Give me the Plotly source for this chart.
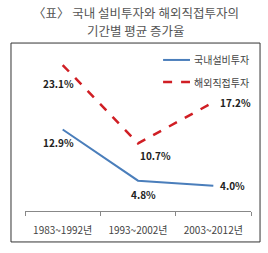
import plotly.graph_objects as go

categories = ["1983~1992년", "1993~2002년", "2003~2012년"]
domestic = [12.9, 4.8, 4.0]
overseas = [23.1, 10.7, 17.2]
series_names = ["국내설비투자", "해외직접투자"]
title_lines = ["〈표〉 국내 설비투자와 해외직접투자의", "기간별 평균 증가율"]

FONT = "Noto Sans CJK KR"
colors = ["#4A7EBB", "#D01E24"]
dashes = ["solid", "dash"]
widths = [2, 2.5]

fig = go.Figure()
for vals, name, col, dsh, w in zip([domestic, overseas], series_names, colors, dashes, widths):
    fig.add_trace(go.Scatter(x=categories, y=vals, mode="lines", name=name,
                             line=dict(color=col, width=w, dash=dsh), showlegend=False))

ann = []
shapes = []
lab_font = dict(family=FONT, size=10, color="#222222")
dom_off = [(-4, -13), (5, -14), (19, 0)]
ovs_off = [(-4, -18), (17, -12), (22, 0)]
for i, c in enumerate(categories):
    ann.append(dict(x=c, y=domestic[i], text="<b>%.1f%%</b>" % domestic[i], showarrow=False,
                    xshift=dom_off[i][0], yshift=dom_off[i][1], font=lab_font))
    ann.append(dict(x=c, y=overseas[i], text="<b>%.1f%%</b>" % overseas[i], showarrow=False,
                    xshift=ovs_off[i][0], yshift=ovs_off[i][1], font=lab_font))
for txt, ty in zip(title_lines, [1.256, 1.140]):
    ann.append(dict(x=0.49, y=ty, xref="paper", yref="paper", xanchor="center", yanchor="middle",
                    text=txt, showarrow=False, align="center", borderpad=0, borderwidth=0,
                    font=dict(family=FONT, size=12.5, color="#555555")))

# manual legend
leg_y = [0.956, 0.816]
for name, col, dsh, w, ly in zip(series_names, colors, dashes, widths, leg_y):
    shapes.append(dict(type="line", xref="paper", yref="paper", x0=0.611, x1=0.73, y0=ly, y1=ly,
                       line=dict(color=col, width=w, dash=dsh)))
    ann.append(dict(x=0.74, y=ly, xref="paper", yref="paper", xanchor="left", yanchor="middle",
                    text=name, showarrow=False, font=dict(family=FONT, size=10, color="#444444")))

shapes.append(dict(type="rect", xref="paper", yref="paper", x0=-0.062, x1=1.04, y0=-0.196, y1=1.063,
                   line=dict(color="#333333", width=1)))

fig.update_layout(
    width=268, height=253,
    margin=dict(l=25, r=17, t=53, b=42),
    paper_bgcolor="white", plot_bgcolor="white",
    showlegend=False,
    annotations=ann,
    shapes=shapes,
    xaxis=dict(type="category", range=[-0.5, 2.5], showline=True, linecolor="#888888", linewidth=1,
               ticks="outside", tickson="boundaries", ticklen=4, tickcolor="#888888",
               ticklabelstandoff=10,
               showgrid=False, tickfont=dict(family=FONT, size=10, color="#444444")),
    yaxis=dict(range=[0, 25], visible=False),
)
fig.write_html("out.html")
